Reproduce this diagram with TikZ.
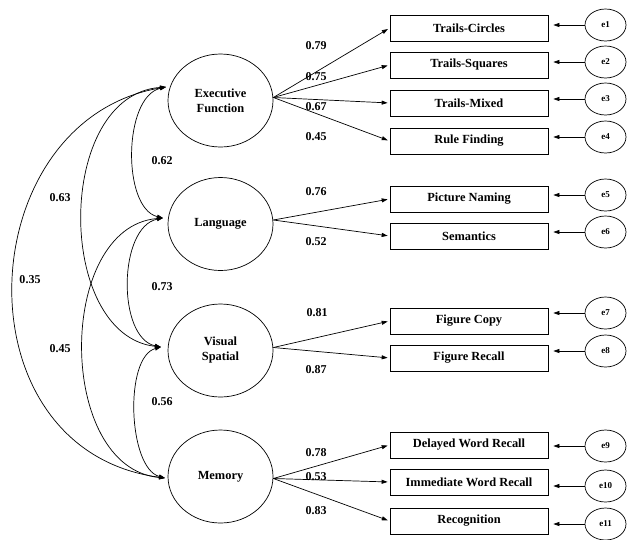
\documentclass[tikz,border=0pt]{standalone}
\usepackage{fontspec}
\setmainfont{Liberation Serif}
\usetikzlibrary{shapes.geometric,arrows.meta}
\begin{document}
\begin{tikzpicture}[x=1pt,y=-1pt,
  lat/.style={ellipse,draw,line width=0.7pt,minimum width=105pt,minimum height=93pt,inner sep=0pt,align=center,font=\fontsize{12.4}{15}\selectfont\bfseries},
  obs/.style={rectangle,draw,line width=0.7pt,minimum width=158pt,minimum height=26pt,inner sep=0pt,font=\fontsize{12.4}{14}\selectfont\bfseries},
  err/.style={ellipse,draw,line width=0.7pt,minimum width=41pt,minimum height=32pt,inner sep=0pt,font=\fontsize{9}{10}\selectfont\bfseries},
  lbl/.style={font=\fontsize{12}{14}\selectfont\bfseries,inner sep=0pt},
  arr/.style={-{Triangle[length=6pt,width=4pt]},line width=0.7pt},
  cov/.style={{Triangle[length=6pt,width=4pt]}-{Triangle[length=6pt,width=4pt]},line width=0.7pt},
]
\useasboundingbox (0,0) rectangle (628,539);

% latent variables
\node[lat] (ef) at (220.5,100.5) {Executive\\Function};
\node[lat] (lang) at (220.5,224) {Language};
\node[lat] (vs) at (220.5,350.5) {Visual\\Spatial};
\node[lat] (mem) at (220.5,476.5) {Memory};

% observed variables
\node[obs] (b1) at (469,28) {Trails-Circles};
\node[obs] (b2) at (469,65) {Trails-Squares};
\node[obs] (b3) at (469,103) {Trails-Mixed};
\node[obs] (b4) at (469,141) {Rule Finding};
\node[obs] (b5) at (469,199) {Picture Naming};
\node[obs] (b6) at (469,236) {Semantics};
\node[obs] (b7) at (469,321) {Figure Copy};
\node[obs] (b8) at (469,358) {Figure Recall};
\node[obs] (b9) at (469,445) {Delayed Word Recall};
\node[obs] (b10) at (469,482) {Immediate Word Recall};
\node[obs] (b11) at (469,521) {Recognition};

% error terms
\node[err] (e1) at (605.5,25) {e1};
\node[err] (e2) at (605.5,62) {e2};
\node[err] (e3) at (605.5,99) {e3};
\node[err] (e4) at (605.5,137) {e4};
\node[err] (e5) at (605.5,195) {e5};
\node[err] (e6) at (605.5,232) {e6};
\node[err] (e7) at (605.5,313) {e7};
\node[err] (e8) at (605.5,351) {e8};
\node[err] (e9) at (605.5,446) {e9};
\node[err] (e10) at (605.5,486) {e10};
\node[err] (e11) at (605.5,524) {e11};

\foreach \i in {1,...,11}{
  \draw[arr,shorten >=5pt] (e\i.west) -- (e\i.west -| b\i.east);
}

% loadings
\foreach \b in {b1,b2,b3,b4}{\draw[arr,shorten >=2pt] ([yshift=3pt]ef.east) -- (\b.west);}
\foreach \b in {b5,b6}{\draw[arr,shorten >=2pt] ([yshift=4pt]lang.east) -- (\b.west);}
\foreach \b in {b7,b8}{\draw[arr,shorten >=2pt] ([yshift=3pt]vs.east) -- (\b.west);}
\foreach \b in {b9,b10,b11}{\draw[arr,shorten >=2pt] ([yshift=-2pt]mem.east) -- (\b.west);}

\node[lbl] (l1) at (316,46) {0.79};
\node[lbl] (l2) at (316,77) {0.75};
\node[lbl] (l3) at (316,107) {0.67};
\node[lbl] (l4) at (316,137) {0.45};
\node[lbl] (l5) at (316,192) {0.76};
\node[lbl] (l6) at (316,242) {0.52};
\node[lbl] (l7) at (317,313) {0.81};
\node[lbl] (l8) at (316,370) {0.87};
\node[lbl] (l9) at (316,453) {0.78};
\node[lbl] (l10) at (316,477) {0.53};
\node[lbl] (l11) at (316,511) {0.83};

% covariances
\coordinate (pEF) at (166,87);
\coordinate (pL) at (163,218);
\coordinate (pV) at (161,347);
\coordinate (pM) at (165,478);

\draw[cov] (pEF) .. controls (123,97) and (122,208) .. (pL);
\draw[cov] (pEF) .. controls (55,95) and (55,335) .. (pV);
\draw[cov] (pEF) .. controls (-30,120) and (-45,450) .. (pM);
\draw[cov] (pL) .. controls (118,227) and (117,338) .. (pV);
\draw[cov] (pL) .. controls (56,227) and (56,468) .. (pM);
\draw[cov] (pV) .. controls (124,357) and (128,468) .. (pM);

\node[lbl] (c1) at (162,161) {0.62};
\node[lbl] (c2) at (60,198) {0.63};
\node[lbl] (c3) at (30,280) {0.35};
\node[lbl] (c4) at (162,287) {0.73};
\node[lbl] (c5) at (60,349) {0.45};
\node[lbl] (c6) at (162,402) {0.56};
\end{tikzpicture}
\end{document}
